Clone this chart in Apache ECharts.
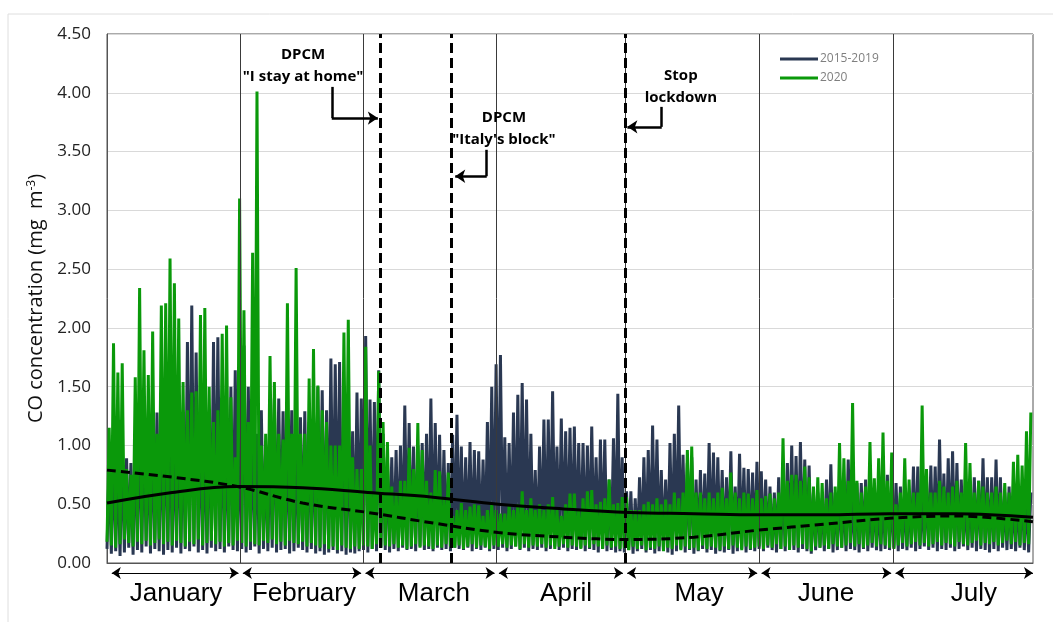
<!DOCTYPE html>
<html><head><meta charset="utf-8">
<script src="https://cdn.jsdelivr.net/npm/echarts@6/dist/echarts.min.js"></script>
<style>html,body{margin:0;padding:0;background:#fff}#c{width:1053px;height:622px}</style>
</head><body><div id="c"></div>
<script>
// ---- data (x axis unit: day index) ----
const monthNames = ['January','February','March','April','May','June','July'];
const monthEdges = [0, 30.75, 58.96, 89.65, 119.16, 150.06, 180.88, 213];
const monthLabelAt = [15.9, 45.3, 75.2, 105.6, 136.2, 165.4, 199.4];
const eventDays = [62.8, 79.13, 119.16];

// daily peaks / troughs, 2020
const green_hi = [
 1.15,1.87,1.62,1.70,0.80,0.75,1.58,2.34,1.81,1.60,1.97,1.10,2.19,2.21,2.59,2.38,2.08,1.54,1.30,1.45,1.46,2.11,2.17,1.50,1.20,1.30,1.95,2.02,1.41,0.90,3.10,
 2.15,1.20,2.64,4.01,1.00,1.10,1.76,1.54,1.10,1.05,2.21,1.10,2.51,1.10,1.10,1.57,1.82,1.51,1.30,1.20,1.00,1.00,1.00,1.96,2.07,0.90,0.80,0.80,
 1.84,1.00,0.60,1.63,1.20,1.03,0.65,0.60,0.70,0.70,0.98,0.80,1.19,0.96,0.70,0.60,0.79,0.78,0.55,0.77,0.40,0.45,0.51,0.45,0.48,0.50,0.49,0.40,0.45,0.50,0.45,
 0.42,0.42,0.50,0.45,0.50,0.61,0.45,0.55,0.45,0.50,0.45,0.50,0.56,0.45,0.40,0.50,0.59,0.59,0.45,0.55,0.61,0.62,0.50,0.52,0.55,0.71,0.50,0.51,0.56,
 0.56,0.45,0.45,0.45,0.50,0.52,0.50,0.55,0.50,0.54,0.50,0.60,0.55,0.60,0.96,0.99,0.60,0.60,0.55,0.60,0.55,0.60,0.64,0.55,0.77,0.60,0.55,0.60,0.59,0.55,0.62,
 0.55,0.57,0.59,0.55,0.60,1.06,0.70,0.75,0.75,0.70,0.82,0.73,0.65,0.73,0.68,0.55,0.60,0.65,1.02,0.89,0.70,1.36,0.70,0.60,0.65,1.03,0.72,0.89,1.11,0.70,0.94,
 0.50,0.60,0.89,0.71,0.60,0.60,1.34,0.80,0.60,0.60,0.70,0.65,0.60,0.65,0.70,0.60,1.02,0.85,0.60,0.70,0.65,0.60,0.60,0.65,0.60,0.68,0.60,0.86,0.92,0.83,1.12,1.28
];
const green_lo = [
 0.18,0.15,0.13,0.16,0.20,0.17,0.14,0.18,0.16,0.19,0.15,0.17,0.20,0.16,0.18,0.15,0.19,0.17,0.14,0.18,0.16,0.20,0.15,0.17,0.19,0.16,0.18,0.14,0.17,0.15,0.19,
 0.17,0.14,0.18,0.16,0.15,0.19,0.17,0.20,0.16,0.18,0.15,0.19,0.17,0.16,0.18,0.14,0.17,0.15,0.13,0.16,0.12,0.14,0.11,0.15,0.13,0.12,0.14,0.12,
 0.15,0.14,0.12,0.16,0.13,0.15,0.14,0.16,0.13,0.15,0.12,0.14,0.16,0.13,0.15,0.14,0.12,0.15,0.13,0.16,0.14,0.13,0.15,0.12,0.14,0.16,0.13,0.15,0.14,0.12,0.15,
 0.14,0.16,0.13,0.15,0.14,0.12,0.16,0.13,0.15,0.14,0.16,0.13,0.15,0.12,0.14,0.16,0.13,0.15,0.14,0.12,0.15,0.13,0.16,0.14,0.12,0.15,0.13,0.14,0.12,
 0.13,0.11,0.14,0.12,0.15,0.11,0.13,0.12,0.14,0.10,0.13,0.12,0.15,0.11,0.14,0.12,0.13,0.11,0.15,0.12,0.14,0.13,0.11,0.14,0.12,0.15,0.13,0.11,0.14,0.12,0.13,
 0.14,0.12,0.15,0.13,0.16,0.12,0.14,0.11,0.15,0.13,0.16,0.12,0.10,0.14,0.13,0.15,0.12,0.16,0.14,0.13,0.15,0.17,0.14,0.16,0.13,0.15,0.17,0.14,0.16,0.15,0.13,
 0.12,0.15,0.17,0.14,0.16,0.18,0.15,0.17,0.14,0.16,0.18,0.15,0.17,0.16,0.14,0.18,0.16,0.15,0.17,0.19,0.15,0.17,0.16,0.18,0.15,0.17,0.19,0.16,0.18,0.15,0.17,0.16
];
// daily peaks / troughs, 2015-2019
const navy_hi = [
 0.87,1.00,0.90,1.00,0.89,0.85,1.10,1.30,1.20,1.10,1.20,1.28,1.30,1.40,1.30,1.20,1.30,1.20,1.88,2.19,1.79,1.30,1.20,1.30,1.88,1.92,1.30,1.20,1.50,1.64,1.20,
 1.85,1.50,1.20,1.10,1.30,1.00,1.10,1.40,1.40,1.29,1.20,1.30,1.10,1.24,1.29,1.20,1.20,1.50,1.47,1.30,1.74,1.69,1.71,1.30,1.20,1.12,1.45,1.40,
 1.93,1.39,1.37,1.64,1.10,0.90,0.90,0.96,1.00,1.34,1.19,0.99,1.00,1.02,1.10,1.40,1.19,1.09,0.96,0.85,1.09,1.26,0.99,0.90,1.03,0.96,0.95,0.88,1.20,1.50,1.69,
 1.77,1.07,1.02,1.28,1.43,1.53,1.39,1.10,0.79,0.99,1.22,1.22,1.46,0.99,1.23,1.12,1.15,1.16,1.02,1.02,1.00,1.16,0.90,1.05,1.05,0.71,1.06,1.44,0.90,
 0.61,0.61,0.55,0.73,0.90,0.96,1.17,1.05,0.79,0.71,1.02,1.10,1.34,0.92,0.85,0.90,0.71,0.79,0.76,1.02,0.94,0.90,0.79,0.73,0.95,0.65,0.93,0.81,0.80,0.77,0.86,
 0.78,0.71,0.65,0.60,0.73,0.70,0.85,1.00,0.91,1.03,0.88,0.83,0.60,0.60,0.55,0.71,0.84,0.60,0.65,0.60,0.88,0.60,0.68,0.68,0.71,0.60,0.60,0.55,0.60,0.75,0.60,
 0.68,0.65,0.60,0.60,0.82,0.82,0.60,0.70,0.83,0.82,1.05,0.76,0.89,0.95,0.85,0.71,0.60,0.70,0.73,0.70,0.89,0.73,0.73,0.88,0.73,0.60,0.65,0.60,0.60,0.65,0.60,0.60
];
const navy_lo = [
 0.12,0.08,0.10,0.06,0.09,0.13,0.07,0.11,0.09,0.14,0.08,0.12,0.10,0.07,0.11,0.09,0.13,0.08,0.12,0.10,0.14,0.09,0.11,0.08,0.13,0.10,0.12,0.09,0.14,0.11,0.10,
 0.12,0.09,0.11,0.14,0.08,0.12,0.10,0.13,0.09,0.11,0.12,0.08,0.10,0.13,0.11,0.09,0.12,0.08,0.10,0.07,0.09,0.11,0.08,0.10,0.07,0.09,0.08,0.10,
 0.11,0.09,0.12,0.10,0.13,0.11,0.09,0.12,0.10,0.13,0.11,0.12,0.10,0.14,0.11,0.12,0.10,0.13,0.11,0.12,0.10,0.13,0.12,0.11,0.13,0.10,0.12,0.11,0.13,0.10,0.12,
 0.11,0.13,0.10,0.12,0.14,0.11,0.13,0.10,0.12,0.11,0.13,0.10,0.12,0.14,0.11,0.13,0.10,0.12,0.11,0.13,0.10,0.12,0.11,0.09,0.12,0.10,0.11,0.09,0.10,
 0.09,0.11,0.08,0.10,0.12,0.09,0.11,0.08,0.10,0.12,0.09,0.07,0.10,0.12,0.09,0.11,0.08,0.10,0.12,0.09,0.11,0.08,0.10,0.09,0.11,0.08,0.10,0.12,0.09,0.11,0.10,
 0.12,0.10,0.13,0.11,0.09,0.12,0.10,0.13,0.11,0.09,0.12,0.10,0.08,0.11,0.13,0.10,0.12,0.09,0.11,0.13,0.10,0.12,0.11,0.09,0.12,0.10,0.13,0.11,0.10,0.12,0.11,
 0.13,0.10,0.12,0.11,0.13,0.10,0.12,0.14,0.11,0.13,0.10,0.12,0.11,0.13,0.10,0.12,0.14,0.11,0.13,0.10,0.12,0.11,0.09,0.12,0.10,0.13,0.11,0.12,0.10,0.13,0.11,0.09
];
// polynomial trend lines
const trendDays = [0,15,30,45,60,75,90,105,120,135,150,165,180,195,213];
const trend1519 = [0.51,0.60,0.65,0.64,0.60,0.56,0.50,0.46,0.43,0.42,0.41,0.41,0.42,0.42,0.39];
const trend2020 = [0.79,0.73,0.65,0.51,0.43,0.34,0.26,0.22,0.20,0.22,0.28,0.33,0.38,0.40,0.35];

// annotations
const noteTexts = ['DPCM\n"I stay at home"', 'DPCM\n"Italy\'s block"', 'Stop\nlockdown'];
const noteAt = [[45.1, 4.23], [91.3, 3.69], [132.0, 4.055]];
const noteArrows = [ // elbow: [x, yTop], [x, yBend], [xTip, yBend]
  [[51.7, 4.05], [51.7, 3.785], [62.3, 3.785]],
  [[87.35, 3.515], [87.35, 3.29], [80.1, 3.29]],
  [[127.6, 3.88], [127.6, 3.71], [119.7, 3.71]]
];

function zigzag(lo, hi) {
  const out = [];
  for (let d = 0; d < lo.length; d++) {
    out.push([d, lo[d]]);
    out.push([d + 0.5, hi[d]]);
  }
  return out;
}
const FONT = 'Open Sans';
const chart = echarts.init(document.getElementById('c'), null, {renderer: 'canvas'});

const arrowLines = [];
noteArrows.forEach(a => {
  arrowLines.push([{coord: a[0], symbol: 'none'}, {coord: a[1], symbol: 'none'}]);
  arrowLines.push([{coord: a[1], symbol: 'none'}, {coord: a[2], symbol: 'arrow', symbolSize: 10}]);
});

const option = {
  animation: false,
  backgroundColor: '#fff',
  graphic: [{type: 'rect', silent: true, z: -10, shape: {x: 8, y: 14, width: 1100, height: 700},
             style: {fill: 'none', stroke: '#dedede', lineWidth: 1}}],
  legend: {
    data: ['2015-2019', '2020'], orient: 'vertical', left: 775, top: 48,
    icon: 'rect', itemWidth: 38, itemHeight: 3, itemGap: 7,
    textStyle: {color: '#7f7f7f', fontSize: 12, fontFamily: FONT, padding: [0,0,0,-3]}
  },
  grid: [
    {left: 107, right: 20, top: 34, bottom: 59, show: true, borderColor: '#555', borderWidth: 1, containLabel: false},
    {left: 107, right: 20, top: 566, height: 14, show: false}
  ],
  xAxis: [
    {type: 'value', gridIndex: 0, min: 0, max: 213,
     axisLine: {show: true, lineStyle: {color: '#555'}}, axisTick: {show: false}, splitLine: {show: false},
     axisLabel: {show: true, customValues: monthLabelAt, margin: 18, fontSize: 26, fontFamily: 'Liberation Sans', color: '#000',
       formatter: v => monthNames[monthLabelAt.indexOf(v)] || ''}},
    {type: 'value', gridIndex: 1, min: 0, max: 213, show: false}
  ],
  yAxis: [
    {type: 'value', gridIndex: 0, min: 0, max: 4.5, interval: 0.5,
     axisLine: {show: true, lineStyle: {color: '#555'}}, axisTick: {show: false},
     splitLine: {show: true, lineStyle: {color: '#d9d9d9', width: 1}},
     axisLabel: {margin: 16, fontSize: 17, fontFamily: FONT, color: '#222', formatter: v => v.toFixed(2)},
     name: 'CO concentration (mg  m{sup|-3})', nameLocation: 'middle', nameGap: 56,
     nameTextStyle: {fontSize: 20, fontFamily: FONT, color: '#111',
       rich: {sup: {fontSize: 12, fontFamily: FONT, color: '#111', verticalAlign: 'top', padding: [0,0,9,0]}}}},
    {type: 'value', gridIndex: 1, min: 0, max: 1, show: false}
  ],
  series: [
    {name: '2015-2019', type: 'line', data: zigzag(navy_lo, navy_hi), showSymbol: false, symbol: 'none',
     color: '#2a3852', lineStyle: {width: 3, color: '#2a3852', join: 'bevel'}, z: 2},
    {name: '2020', type: 'line', data: zigzag(green_lo, green_hi), showSymbol: false, symbol: 'none',
     color: '#0a990a', lineStyle: {width: 3, color: '#0a990a', join: 'bevel'}, z: 3},
    {name: 'trend 2015-2019', type: 'line', data: trendDays.map((d, i) => [d, trend1519[i]]), smooth: 0.4,
     showSymbol: false, symbol: 'none', lineStyle: {width: 3, color: '#000'}, z: 5,
     markLine: {silent: true, symbol: 'none', label: {show: false},
       lineStyle: {color: '#3a3a3a', width: 1, type: 'solid'},
       data: monthEdges.slice(1, -1).map(d => ({xAxis: d}))}},
    {name: 'trend 2020', type: 'line', data: trendDays.map((d, i) => [d, trend2020[i]]), smooth: 0.4,
     showSymbol: false, symbol: 'none', lineStyle: {width: 3, color: '#000', type: [9, 5]}, z: 6,
     markLine: {silent: true, symbol: 'none', label: {show: false},
       lineStyle: {color: '#000', width: 2.5, type: 'solid'},
       data: eventDays.map(d => ({xAxis: d, lineStyle: {color: '#000', width: 3, type: [10, 5]}})).concat(arrowLines)},
     markPoint: {silent: true, symbol: 'circle', symbolSize: 1, itemStyle: {color: 'rgba(0,0,0,0)'},
       label: {show: true, position: 'inside', formatter: '{b}', fontFamily: FONT, fontWeight: 'bold',
               fontSize: 15, lineHeight: 22, color: '#000', align: 'center'},
       data: noteTexts.map((t, i) => ({name: t, coord: noteAt[i]}))}},
    {name: 'months', type: 'line', xAxisIndex: 1, yAxisIndex: 1, data: monthEdges.map(d => [d, 0.5]),
     showSymbol: false, symbol: 'none', lineStyle: {opacity: 0}, silent: true,
     markLine: {silent: true, symbol: ['arrow', 'arrow'], symbolSize: 9, label: {show: false},
       lineStyle: {color: '#000', width: 1, type: 'solid'},
       data: monthNames.map((m, i) => [{coord: [monthEdges[i] + (i === 0 ? 1.1 : 0.5), 0.5]},
                                       {coord: [monthEdges[i + 1] - (i === 6 ? 0.01 : 0.5), 0.5]}])}}
  ]
};
chart.setOption(option);
</script></body></html>
